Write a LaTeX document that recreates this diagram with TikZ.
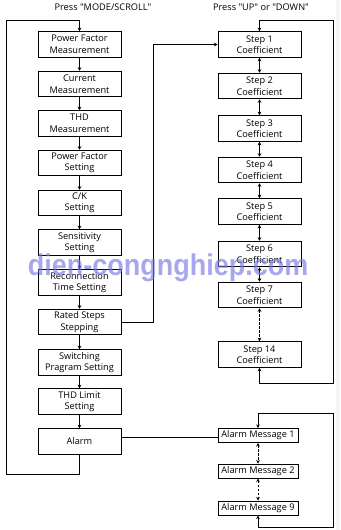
\documentclass[tikz,border=0pt]{standalone}
\usepackage{fontspec}
\setmainfont{Open Sans}
\newfontfamily\wmfont{Liberation Sans}
\usetikzlibrary{arrows.meta}
\definecolor{wmblue}{RGB}{120,120,228}
\begin{document}
\begin{tikzpicture}[x=1pt,y=-1pt,
  every node/.style={font=\fontsize{9.2}{11.5}\selectfont},
  box/.style={draw,line width=1pt,minimum width=83pt,minimum height=25.5pt,align=center,inner sep=0pt,fill=white},
  abox/.style={draw,line width=1pt,minimum width=80pt,minimum height=14pt,align=center,inner sep=0pt,fill=white},
  conn/.style={line width=1pt},
  arr/.style={conn,-{Stealth[length=3.5pt,width=3.5pt]}},
  dbl/.style={conn,{Stealth[length=3.5pt,width=3.5pt]}-{Stealth[length=3.5pt,width=3.5pt]}},
  ddbl/.style={dbl,dash pattern=on 2.5pt off 1.5pt}]
\useasboundingbox (0,0) rectangle (340,530);
\fill[white] (0,0) rectangle (340,530);
\fill[gray!8] (336,0) rectangle (340,530);
% titles
\node (t1) at (103,7) {Press \textquotedbl MODE/SCROLL\textquotedbl};
\node (t2) at (261,7) {Press \textquotedbl UP\textquotedbl\ or \textquotedbl DOWN\textquotedbl};
% left column
\node[box] (b1) at (79.5,44.5) {Power Factor\\Measurement};
\node[box] (b2) at (79.5,84) {Current\\Measurement};
\node[box] (b3) at (79.5,123.5) {THD\\Measurement};
\node[box] (b4) at (79.5,163) {Power Factor\\Setting};
\node[box] (b5) at (79.5,203) {C/K\\Setting};
\node[box] (b6) at (79.5,242.5) {Sensitivity\\Setting};
\node[box] (b7) at (79.5,282.5) {Reconnection\\Time Setting};
\node[box] (b8) at (79.5,322) {Rated Steps\\Stepping};
\node[box] (b9) at (79.5,362.5) {Switching\\Pragram Setting};
\node[box] (b10) at (79.5,401.5) {THD Limit\\Setting};
\node[box] (b11) at (79.5,441.5) {Alarm};
\foreach \a/\b in {b1/b2,b2/b3,b3/b4,b4/b5,b5/b6,b6/b7,b7/b8,b8/b9,b9/b10,b10/b11}
  \draw[arr] (\a.south) -- (\b.north);
% right column
\node[box] (s1) at (259.5,44.5) {Step 1\\Coefficient};
\node[box] (s2) at (259.5,86) {Step 2\\Coefficient};
\node[box] (s3) at (259.5,128.5) {Step 3\\Coefficient};
\node[box] (s4) at (259.5,170) {Step 4\\Coefficient};
\node[box] (s5) at (259.5,211.5) {Step 5\\Coefficient};
\node[box] (s6) at (259.5,254) {Step 6\\Coefficient};
\node[box] (s7) at (259.5,295) {Step 7\\Coefficient};
\node[box] (s14) at (259.5,354.5) {Step 14\\Coefficient};
\foreach \a/\b in {s1/s2,s2/s3,s3/s4,s4/s5,s5/s6,s6/s7}
  \draw[dbl] (\a.south) -- (\b.north);
\draw[ddbl] (s7.south) -- (s14.north);
% alarm messages
\node[abox] (a1) at (258,435.5) {Alarm Message 1};
\node[abox] (a2) at (258,471) {Alarm Message 2};
\node[abox] (a9) at (258,508) {Alarm Message 9};
\draw[ddbl] (a1.south) -- (a2.north);
\draw[ddbl] (a2.south) -- (a9.north);
% loops
\coordinate (lb) at (6,474);
\coordinate (lt) at (6,20);
\draw[arr] (b11.south) |- (lb) -- (lt) -| (b1.north);
\coordinate (rb) at (333,383);
\coordinate (rt) at (333,20);
\draw[dbl] (s14.south) |- (rb) -- (rt) -| (s1.north);
\coordinate (rr) at (153,0);
\draw[arr] (b8.east) -| (rr |- s1.west) -- (s1.west);
\coordinate (ab) at (333,527);
\coordinate (at) at (333,413);
\draw[dbl] (a9.south) |- (ab) -- (at) -| (a1.north);
\draw[conn] ([yshift=4pt]b11.east) -- ([yshift=4pt]b11.east -| a1.west);
% watermark
\node[anchor=base,text=wmblue,opacity=0.65,xscale=0.9,font=\wmfont\bfseries\fontsize{30}{30}\selectfont] (wm) at (168,275) {dien-congnghiep.com};
\end{tikzpicture}
\end{document}
